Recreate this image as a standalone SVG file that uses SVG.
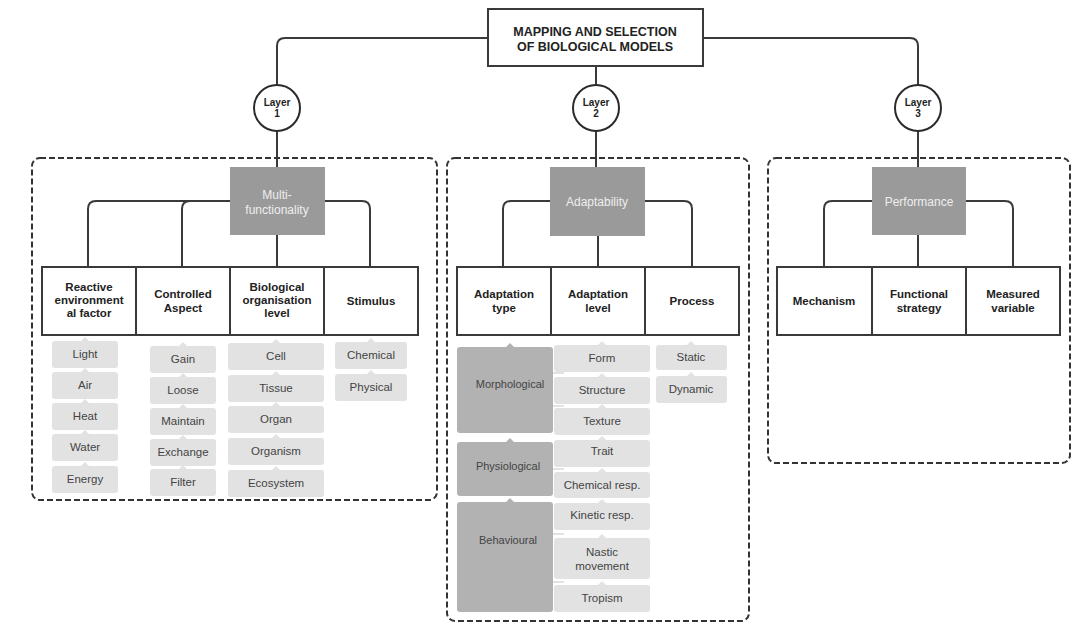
<svg xmlns="http://www.w3.org/2000/svg" width="1088" height="623" viewBox="0 0 1088 623">
<style>
.bg{fill:#ffffff}
.ln{fill:none;stroke:#3a3a3a;stroke-width:2}
.dash{fill:none;stroke:#333;stroke-width:2;stroke-dasharray:6 3}
.title{fill:#fff;stroke:#3a3a3a;stroke-width:2}
.circ{fill:#fff;stroke:#2a2a2a;stroke-width:2}
.cat{fill:#9a9a9a}
.hdr{fill:#fff;stroke:#3a3a3a;stroke-width:2}
.it{fill:#e2e2e2}
.dk{fill:#b2b2b2}
.t{font-family:"Liberation Sans",Arial,sans-serif;text-anchor:middle}
.tt{font-size:12.5px;font-weight:bold;fill:#222}
.tl{font-size:10px;font-weight:bold;fill:#222}
.tc{font-size:12px;fill:#eeeeee}
.th{font-size:11.5px;font-weight:bold;fill:#222}
.ti{font-size:11.5px;fill:#444}
.td{font-size:11px;fill:#444}
</style>
<rect class="bg" x="0" y="0" width="1088" height="623"/>

<g id="connectors">
  <path class="ln" d="M488 38 H285 Q277 38 277 46 V167"/>
  <path class="ln" d="M703 38 H910 Q918 38 918 46 V167"/>
  <path class="ln" d="M596 66 V167"/>
  <path class="ln" d="M88 267 V209 Q88 201 96 201 H362 Q370 201 370 209 V267"/>
  <path class="ln" d="M182 267 V209 Q182 201 190 201"/>
  <path class="ln" d="M277 235 V267"/>
  <path class="ln" d="M503 267 V209 Q503 201 511 201 H684 Q692 201 692 209 V267"/>
  <path class="ln" d="M598 236 V267"/>
  <path class="ln" d="M824 267 V209 Q824 201 832 201 H1005 Q1013 201 1013 209 V267"/>
  <path class="ln" d="M918 235 V267"/>
</g>

<g id="layer-boxes">
  <rect class="dash" x="32" y="158" width="405" height="342" rx="8"/>
  <rect class="dash" x="447" y="158" width="302" height="463" rx="8"/>
  <rect class="dash" x="768" y="158" width="302" height="305" rx="8"/>
</g>

<g id="title">
  <rect class="title" x="488" y="9" width="215" height="57"/>
  <text class="t tt" x="595" y="36">MAPPING AND SELECTION</text>
  <text class="t tt" x="595" y="51">OF BIOLOGICAL MODELS</text>
</g>

<g id="layer1">
  <circle class="circ" cx="277" cy="108" r="23"/>
  <text class="t tl" x="277" y="106">Layer</text>
  <text class="t tl" x="277" y="117">1</text>
</g>
<g id="layer2">
  <circle class="circ" cx="596" cy="108" r="23"/>
  <text class="t tl" x="596" y="106">Layer</text>
  <text class="t tl" x="596" y="117">2</text>
</g>
<g id="layer3">
  <circle class="circ" cx="918" cy="108" r="23"/>
  <text class="t tl" x="918" y="106">Layer</text>
  <text class="t tl" x="918" y="117">3</text>
</g>

<g id="multifunctionality">
  <rect class="cat" x="230" y="167" width="95" height="68"/>
  <text class="t tc" x="277" y="199">Multi-</text>
  <text class="t tc" x="277" y="214">functionality</text>
</g>
<g id="adaptability">
  <rect class="cat" x="550" y="167" width="95" height="69"/>
  <text class="t tc" x="597" y="206">Adaptability</text>
</g>
<g id="performance">
  <rect class="cat" x="872" y="167" width="94" height="68"/>
  <text class="t tc" x="919" y="206">Performance</text>
</g>

<g id="headers-layer1">
  <rect class="hdr" x="42" y="267" width="94" height="68"/>
  <rect class="hdr" x="136" y="267" width="94" height="68"/>
  <rect class="hdr" x="230" y="267" width="94" height="68"/>
  <rect class="hdr" x="324" y="267" width="94" height="68"/>
  <text class="t th" x="89" y="291">Reactive</text>
  <text class="t th" x="89" y="304">environment</text>
  <text class="t th" x="89" y="317">al factor</text>
  <text class="t th" x="183" y="298">Controlled</text>
  <text class="t th" x="183" y="312">Aspect</text>
  <text class="t th" x="277" y="291">Biological</text>
  <text class="t th" x="277" y="304">organisation</text>
  <text class="t th" x="277" y="317">level</text>
  <text class="t th" x="371" y="305">Stimulus</text>
</g>

<g id="headers-layer2">
  <rect class="hdr" x="457" y="267" width="94" height="68"/>
  <rect class="hdr" x="551" y="267" width="94" height="68"/>
  <rect class="hdr" x="645" y="267" width="94" height="68"/>
  <text class="t th" x="504" y="298">Adaptation</text>
  <text class="t th" x="504" y="312">type</text>
  <text class="t th" x="598" y="298">Adaptation</text>
  <text class="t th" x="598" y="312">level</text>
  <text class="t th" x="692" y="305">Process</text>
</g>

<g id="headers-layer3">
  <rect class="hdr" x="777" y="267" width="95" height="68"/>
  <rect class="hdr" x="872" y="267" width="94" height="68"/>
  <rect class="hdr" x="966" y="267" width="94" height="68"/>
  <text class="t th" x="824" y="305">Mechanism</text>
  <text class="t th" x="919" y="298">Functional</text>
  <text class="t th" x="919" y="312">strategy</text>
  <text class="t th" x="1013" y="298">Measured</text>
  <text class="t th" x="1013" y="312">variable</text>
</g>

<g id="items-reactive">
  <rect class="it" x="52" y="341" width="66" height="27" rx="3"/><polygon class="it" points="81,341 85,337 89,341"/>
  <text class="t ti" x="85" y="358">Light</text>
  <rect class="it" x="52" y="372" width="66" height="27" rx="3"/><polygon class="it" points="81,372 85,368 89,372"/>
  <text class="t ti" x="85" y="389">Air</text>
  <rect class="it" x="52" y="403" width="66" height="27" rx="3"/><polygon class="it" points="81,403 85,399 89,403"/>
  <text class="t ti" x="85" y="420">Heat</text>
  <rect class="it" x="52" y="434" width="66" height="27" rx="3"/><polygon class="it" points="81,434 85,430 89,434"/>
  <text class="t ti" x="85" y="451">Water</text>
  <rect class="it" x="52" y="466" width="66" height="27" rx="3"/><polygon class="it" points="81,466 85,462 89,466"/>
  <text class="t ti" x="85" y="483">Energy</text>
</g>

<g id="items-controlled">
  <rect class="it" x="150" y="346" width="66" height="27" rx="3"/><polygon class="it" points="179,346 183,342 187,346"/>
  <text class="t ti" x="183" y="363">Gain</text>
  <rect class="it" x="150" y="377" width="66" height="27" rx="3"/><polygon class="it" points="179,377 183,373 187,377"/>
  <text class="t ti" x="183" y="394">Loose</text>
  <rect class="it" x="150" y="408" width="66" height="27" rx="3"/><polygon class="it" points="179,408 183,404 187,408"/>
  <text class="t ti" x="183" y="425">Maintain</text>
  <rect class="it" x="150" y="439" width="66" height="27" rx="3"/><polygon class="it" points="179,439 183,435 187,439"/>
  <text class="t ti" x="183" y="456">Exchange</text>
  <rect class="it" x="150" y="469" width="66" height="27" rx="3"/><polygon class="it" points="179,469 183,465 187,469"/>
  <text class="t ti" x="183" y="486">Filter</text>
</g>

<g id="items-biological">
  <rect class="it" x="228" y="343" width="96" height="27" rx="3"/><polygon class="it" points="272,343 276,339 280,343"/>
  <text class="t ti" x="276" y="360">Cell</text>
  <rect class="it" x="228" y="375" width="96" height="27" rx="3"/><polygon class="it" points="272,375 276,371 280,375"/>
  <text class="t ti" x="276" y="392">Tissue</text>
  <rect class="it" x="228" y="406" width="96" height="27" rx="3"/><polygon class="it" points="272,406 276,402 280,406"/>
  <text class="t ti" x="276" y="423">Organ</text>
  <rect class="it" x="228" y="438" width="96" height="27" rx="3"/><polygon class="it" points="272,438 276,434 280,438"/>
  <text class="t ti" x="276" y="455">Organism</text>
  <rect class="it" x="228" y="470" width="96" height="27" rx="3"/><polygon class="it" points="272,470 276,466 280,470"/>
  <text class="t ti" x="276" y="487">Ecosystem</text>
</g>

<g id="items-stimulus">
  <rect class="it" x="335" y="342" width="72" height="27" rx="3"/><polygon class="it" points="367,342 371,338 375,342"/>
  <text class="t ti" x="371" y="359">Chemical</text>
  <rect class="it" x="335" y="374" width="72" height="27" rx="3"/><polygon class="it" points="367,374 371,370 375,374"/>
  <text class="t ti" x="371" y="391">Physical</text>
</g>

<g id="items-adaptation-type">
  <rect class="dk" x="457" y="347" width="96" height="86" rx="3"/><polygon class="dk" points="506,347 510,343 514,347"/>
  <text class="t td" x="510" y="388">Morphological</text>
  <rect class="dk" x="457" y="442" width="96" height="54" rx="3"/><polygon class="dk" points="506,442 510,438 514,442"/>
  <text class="t td" x="508" y="470">Physiological</text>
  <rect class="dk" x="457" y="502" width="96" height="110" rx="3"/><polygon class="dk" points="506,502 510,498 514,502"/>
  <text class="t td" x="508" y="544">Behavioural</text>
</g>

<g id="items-adaptation-level">
  <rect class="it" x="554" y="345" width="96" height="27" rx="3"/><polygon class="it" points="598,345 602,341 606,345"/>
  <text class="t ti" x="602" y="362">Form</text>
  <rect class="it" x="554" y="377" width="96" height="27" rx="3"/><polygon class="it" points="598,377 602,373 606,377"/><rect class="it" x="553" y="372" width="11" height="2"/>
  <text class="t ti" x="602" y="394">Structure</text>
  <rect class="it" x="554" y="408" width="96" height="27" rx="3"/><polygon class="it" points="598,408 602,404 606,408"/><rect class="it" x="553" y="405" width="11" height="2"/>
  <text class="t ti" x="602" y="425">Texture</text>
  <rect class="it" x="554" y="440" width="96" height="27" rx="3"/><polygon class="it" points="598,440 602,436 606,440"/>
  <text class="t ti" x="602" y="455">Trait</text>
  <rect class="it" x="554" y="472" width="96" height="26" rx="3"/><polygon class="it" points="598,472 602,468 606,472"/><rect class="it" x="553" y="468" width="11" height="2"/>
  <text class="t ti" x="602" y="489">Chemical resp.</text>
  <rect class="it" x="554" y="503" width="96" height="27" rx="3"/><polygon class="it" points="598,503 602,499 606,503"/>
  <text class="t ti" x="602" y="519">Kinetic resp.</text>
  <rect class="it" x="554" y="538" width="96" height="41" rx="3"/><polygon class="it" points="598,538 602,534 606,538"/><rect class="it" x="553" y="533" width="11" height="2"/>
  <text class="t ti" x="602" y="556">Nastic</text>
  <text class="t ti" x="602" y="570">movement</text>
  <rect class="it" x="554" y="585" width="96" height="27" rx="3"/><polygon class="it" points="598,585 602,581 606,585"/><rect class="it" x="553" y="581" width="11" height="2"/>
  <text class="t ti" x="602" y="602">Tropism</text>
</g>

<g id="items-process">
  <rect class="it" x="656" y="345" width="71" height="25" rx="3"/><polygon class="it" points="687,345 691,341 695,345"/>
  <text class="t ti" x="691" y="361">Static</text>
  <rect class="it" x="656" y="376" width="71" height="27" rx="3"/><polygon class="it" points="687,376 691,372 695,376"/>
  <text class="t ti" x="691" y="393">Dynamic</text>
</g>
</svg>
